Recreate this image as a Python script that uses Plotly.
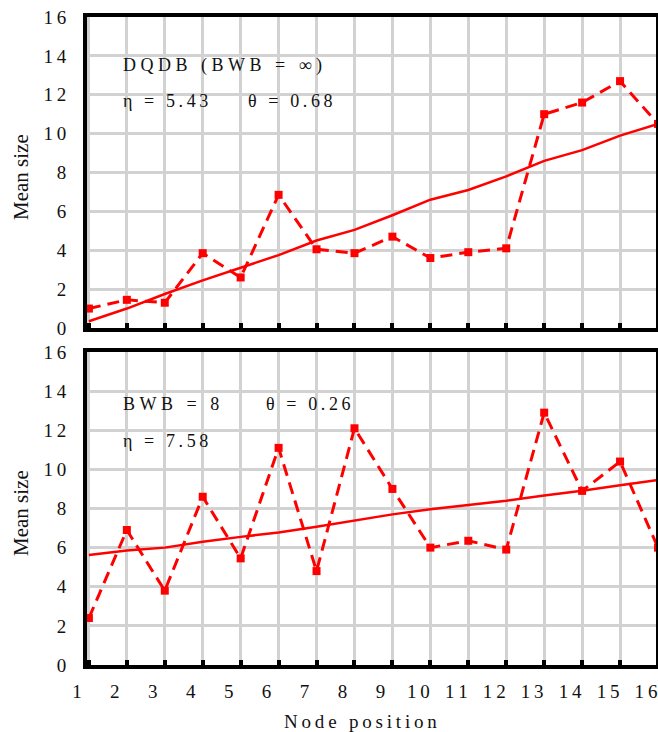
import plotly.graph_objects as go

# Node positions along the bus
nodes = list(range(1, 17))

# Upper panel: DQDB without bandwidth balancing
dqdb_measured = [1.0, 1.45, 1.3, 3.85, 2.6, 6.85, 4.05, 3.85, 4.7, 3.6, 3.9, 4.1, 11.0, 11.6, 12.7, 10.5]
dqdb_fit = [0.35, 1.0, 1.75, 2.45, 3.1, 3.75, 4.5, 5.05, 5.8, 6.6, 7.1, 7.8, 8.6, 9.15, 9.9, 10.5]

# Lower panel: bandwidth balancing with BWB = 8
bwb_measured = [2.4, 6.9, 3.8, 8.6, 5.45, 11.1, 4.8, 12.1, 9.0, 6.0, 6.35, 5.9, 12.9, 8.9, 10.4, 6.0]
bwb_fit = [5.62, 5.85, 6.0, 6.3, 6.55, 6.77, 7.07, 7.4, 7.7, 7.96, 8.18, 8.4, 8.67, 8.91, 9.19, 9.46]

y_ticks = [0, 2, 4, 6, 8, 10, 12, 14, 16]

W, H = 658, 732
SERIF = "'Times New Roman', 'Liberation Serif', 'DejaVu Serif', serif"
RED = "#ff0000"
GRID = "#d2d2d2"
THIN = "\u2009"   # thin space for letter spacing
WIDE = "\u2005"   # four-per-em space for wider letter spacing


def spaced(s, sep=THIN):
    return sep.join(s)


def px_x(p):
    return p / W


def px_y(p):
    return 1 - p / H


fig = go.Figure()

panels = [
    ("x", "y", dqdb_measured, dqdb_fit),
    ("x2", "y2", bwb_measured, bwb_fit),
]
for xa, ya, measured, fit in panels:
    fig.add_trace(go.Scatter(
        x=nodes, y=fit, xaxis=xa, yaxis=ya, mode="lines",
        line=dict(color=RED, width=2.5), showlegend=False,
    ))
    fig.add_trace(go.Scatter(
        x=nodes, y=measured, xaxis=xa, yaxis=ya, mode="lines+markers",
        line=dict(color=RED, width=3, dash="12px,7px"),
        marker=dict(symbol="square", size=8, color=RED),
        showlegend=False,
    ))

x_dom = [px_x(87), 1.0]
top_dom = [px_y(328), px_y(17)]
bot_dom = [px_y(665), px_y(352)]

xaxis_common = dict(
    range=[0.95, 16], tickvals=nodes, showgrid=True, gridcolor=GRID, gridwidth=3,
    zeroline=False, showline=True, linecolor="black", linewidth=4, mirror=True,
    ticks="inside", ticklen=5, tickwidth=4, tickcolor="black", automargin=False,
)
yaxis_common = dict(
    range=[0, 16], tickvals=y_ticks,
    ticktext=[spaced(str(v)) for v in y_ticks],
    showgrid=True, gridcolor=GRID, gridwidth=3, zeroline=False,
    showline=True, linecolor="black", linewidth=4, ticks="",
    ticklabelstandoff=13, tickfont=dict(family=SERIF, size=19, color="#111"),
    automargin=False,
)
right_ticks = dict(
    range=[0, 16], tickvals=y_ticks, side="right", showgrid=False, zeroline=False,
    showline=False, showticklabels=False, ticks="inside", ticklen=7, tickwidth=4,
    tickcolor="black", automargin=False,
)

fig.update_layout(
    width=W, height=H,
    margin=dict(l=0, r=0, t=0, b=0),
    paper_bgcolor="white", plot_bgcolor="white",
    font=dict(family=SERIF),
    xaxis=dict(domain=x_dom, anchor="y", showticklabels=False, **xaxis_common),
    yaxis=dict(domain=top_dom, anchor="x", **yaxis_common),
    xaxis2=dict(
        domain=x_dom, anchor="y2", showticklabels=True,
        ticktext=[spaced(str(n)) for n in nodes],
        ticklabelshift=-12, ticklabelstandoff=6,
        tickfont=dict(family=SERIF, size=19, color="#111"),
        **xaxis_common,
    ),
    yaxis2=dict(domain=bot_dom, anchor="x2", **yaxis_common),
    yaxis3=dict(overlaying="y", anchor="x", **right_ticks),
    yaxis4=dict(overlaying="y2", anchor="x2", **right_ticks),
)

# Right-hand frame edge of each panel
for dom in (top_dom, bot_dom):
    fig.add_shape(
        type="line", xref="paper", yref="paper", x0=1.0, x1=1.0,
        y0=dom[0], y1=dom[1], line=dict(color="black", width=4),
    )

text_font = dict(family=SERIF, size=18, color="#111")


def label(text, x, y, **kw):
    fig.add_annotation(
        text=text, x=px_x(x), y=px_y(y), xref="paper", yref="paper",
        showarrow=False, font=kw.pop("font", text_font),
        xanchor=kw.pop("xanchor", "left"), yanchor="middle", **kw,
    )


# In-panel annotations
label(spaced("DQDB (BWB = ∞)", WIDE), 121, 66)
label(spaced("η = 5.43"), 121, 101)
label(spaced("θ = 0.68"), 246, 101)
label(spaced("BWB = 8", WIDE), 121, 404)
label(spaced("θ = 0.26"), 264, 404)
label(spaced("η = 7.58"), 121, 441)

# Axis titles
title_font = dict(family=SERIF, size=21, color="#111")
label("Mean size", 21, 177, textangle=-90, xanchor="center", font=title_font)
label("Mean size", 21, 513, textangle=-90, xanchor="center", font=title_font)
label(spaced("Node position"), 360, 721, xanchor="center",
      font=dict(family=SERIF, size=19, color="#111"))

fig.write_html("out.html")
